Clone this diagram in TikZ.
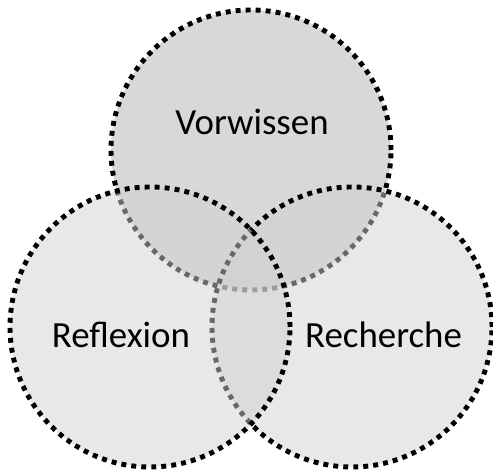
\documentclass[tikz,border=0pt]{standalone}
\usepackage{fontspec}
\setmainfont{Carlito}
\usepackage{tikz}

\tikzset{
    venn/.style={circle, draw=black, line width=2.8pt, dash pattern=on 2.8pt off 2.9pt,
        fill=black!18, fill opacity=0.5, draw opacity=1, minimum size=5.6cm, inner sep=0pt},
    lbl/.style={font=\fontsize{21}{25}\selectfont, text=black}
}

\begin{document}
\begin{tikzpicture}
        \useasboundingbox (0,0) rectangle (9.86,9.42);
        \node[venn, fill=black!30] (vorwissen) at (5.02,6.42) {};
        \node[venn] (recherche) at (7.04,2.88) {};
        \node[venn] (reflexion) at (3.00,2.88) {};
        \node[lbl] (tvor) at (5.04,6.98) {Vorwissen};
        \node[lbl] (tref) at (2.42,2.72) {Reflexion};
        \node[lbl] (trec) at (7.67,2.72) {Recherche};
    \end{tikzpicture}
\end{document}
